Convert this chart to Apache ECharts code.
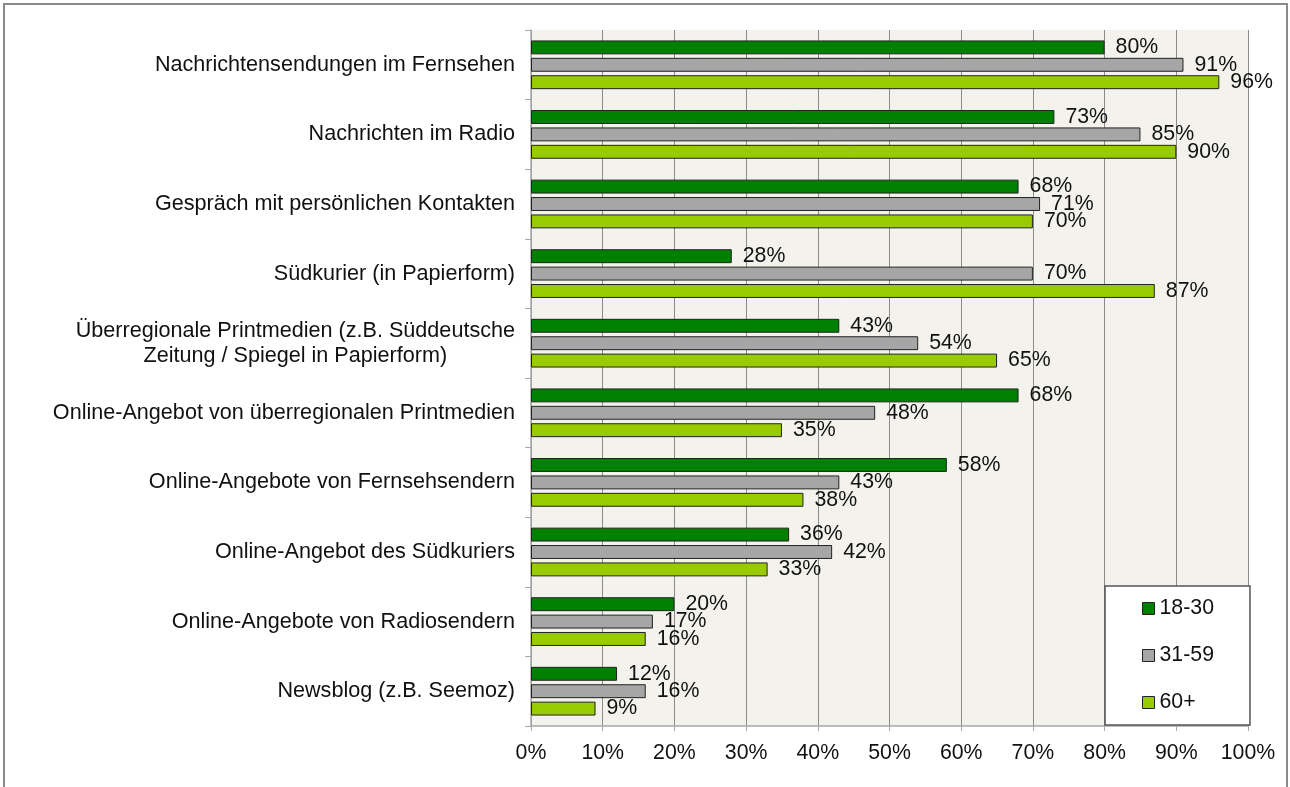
<!DOCTYPE html>
<html>
<head>
<meta charset="utf-8">
<script src="https://cdn.jsdelivr.net/npm/echarts@6/dist/echarts.min.js"></script>
<style>
  html, body { margin: 0; padding: 0; background: #fff; overflow: hidden; }
  #chart { width: 1290px; height: 787px; }
</style>
</head>
<body>
<div id="chart"></div>
<script>
// Kategorien (von oben nach unten)
const categories = [
    'Nachrichtensendungen im Fernsehen',
    'Nachrichten im Radio',
    'Gespräch mit persönlichen Kontakten',
    'Südkurier (in Papierform)',
    'Überregionale Printmedien (z.B. Süddeutsche\nZeitung / Spiegel in Papierform)',
    'Online-Angebot von überregionalen Printmedien',
    'Online-Angebote von Fernsehsendern',
    'Online-Angebot des Südkuriers',
    'Online-Angebote von Radiosendern',
    'Newsblog (z.B. Seemoz)'
];

const seriesNames = ['18-30', '31-59', '60+'];

const age18to30 = [80, 73, 68, 28, 43, 68, 58, 36, 20, 12];
const age31to59 = [91, 85, 71, 70, 54, 48, 43, 42, 17, 16];
const age60plus = [96, 90, 70, 87, 65, 35, 38, 33, 16, 9];

const xTicks = [0, 10, 20, 30, 40, 50, 60, 70, 80, 90, 100];

const FONT = "'Liberation Sans', Arial, sans-serif";

/*
 * Serie bauen
 */
const _makeSeries = (name, data, color) => {
    return {
        type: 'bar',
        name: name,
        data: data,
        barGap: '25%',
        barCategoryGap: '30%',
        itemStyle: {
            color: color,
            borderColor: '#222',
            borderWidth: 1
        },
        label: {
            show: true,
            position: 'right',
            distance: 11,
            color: '#111',
            fontSize: 21.3,
            fontFamily: FONT,
            formatter: (p) => p.value + '%'
        },
        emphasis: { disabled: true }
    };
};

let chart = echarts.init(document.getElementById('chart'));

chart.setOption({
    animation: false,
    textStyle: { fontFamily: FONT },
    graphic: [{
        type: 'rect',
        shape: { x: 4, y: 4, width: 1283, height: 820 },
        style: { fill: 'none', stroke: '#8a8a8a', lineWidth: 2 },
        silent: true,
        z: 100
    }],
    grid: {
        left: 531,
        right: 42,
        top: 30,
        bottom: 61,
        show: true,
        backgroundColor: '#f3f2ec',
        borderWidth: 0
    },
    legend: {
        data: seriesNames,
        orient: 'vertical',
        left: 1105,
        top: 586,
        padding: [12, 36, 12, 37],
        itemGap: 26,
        itemWidth: 12,
        itemHeight: 12,
        icon: 'rect',
        backgroundColor: '#fff',
        borderColor: '#555',
        borderWidth: 1.5,
        borderRadius: 0,
        selectedMode: false,
        textStyle: {
            color: '#111',
            fontSize: 21.3,
            fontFamily: FONT
        },
        itemStyle: { borderColor: '#222', borderWidth: 1 }
    },
    //x轴 (Werte)
    xAxis: {
        type: 'value',
        min: 0,
        max: 100,
        interval: 10,
        axisLabel: {
            color: '#111',
            fontSize: 21.3,
            fontFamily: FONT,
            margin: 17,
            formatter: (v) => xTicks.indexOf(v) >= 0 ? v + '%' : ''
        },
        axisLine: { show: true, lineStyle: { color: '#a8a8a8', width: 1.5 } },
        axisTick: { show: true, length: 5, lineStyle: { color: '#a8a8a8' } },
        splitLine: { show: true, lineStyle: { color: '#8c8c8c', width: 1 } }
    },
    //y轴 (Kategorien)
    yAxis: {
        type: 'category',
        data: categories,
        inverse: true,
        axisLine: { show: true, lineStyle: { color: '#a8a8a8', width: 1.5 } },
        axisTick: { show: true, length: 6, lineStyle: { color: '#a8a8a8' } },
        axisLabel: {
            color: '#111',
            fontSize: 21.6,
            fontFamily: FONT,
            margin: 16,
            lineHeight: 25,
            formatter: (v) => {
                if (v.indexOf('\n') < 0) return v;
                return v.split('\n').map((s) => '{c|' + s + '}').join('\n');
            },
            rich: {
                c: { align: 'center', fontSize: 21.6, lineHeight: 25, color: '#111', fontFamily: FONT }
            }
        }
    },
    series: [
        _makeSeries(seriesNames[0], age18to30, '#008000'),
        _makeSeries(seriesNames[1], age31to59, '#a6a6a6'),
        _makeSeries(seriesNames[2], age60plus, '#99cc00')
    ]
});
</script>
</body>
</html>
